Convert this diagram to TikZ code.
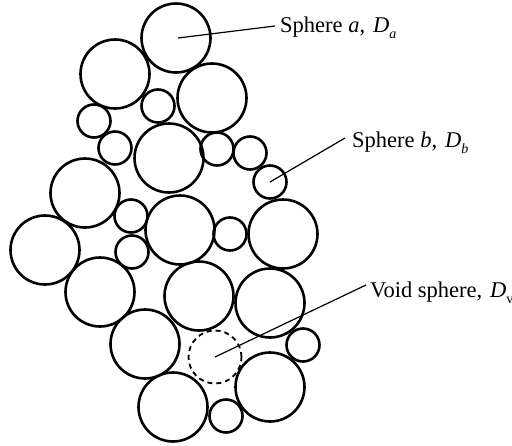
\documentclass[tikz,border=0pt]{standalone}
\usepackage{fontspec}
\setmainfont{Liberation Serif}
\begin{document}
\begin{tikzpicture}[x=1pt,y=-1pt,
  big/.style={circle,draw,line width=2.6pt,minimum size=69pt,inner sep=0pt},
  small/.style={circle,draw,line width=2.6pt,minimum size=33pt,inner sep=0pt},
  void/.style={circle,draw,line width=1.8pt,dash pattern=on 5pt off 4pt,minimum size=53pt,inner sep=0pt},
  leader/.style={line width=1.2pt},
  lbl/.style={anchor=base west,inner sep=0pt,font=\fontsize{22.5}{26}\selectfont}]
\useasboundingbox (0,0) rectangle (512,445);
% large spheres
\node[big] (a) at (176,38) {};
\node[big] (c1) at (115,74) {};
\node[big] (c2) at (212,98) {};
\node[big] (c3) at (169,158) {};
\node[big] (c4) at (85,193) {};
\node[big] (c5) at (180,230) {};
\node[big] (c6) at (283,234) {};
\node[big] (c7) at (45,250) {};
\node[big] (c8) at (100,292) {};
\node[big] (c9) at (199,296) {};
\node[big] (c10) at (270,303) {};
\node[big] (c11) at (145,344) {};
\node[big] (c12) at (270,387) {};
\node[big] (c13) at (173,407) {};
% small spheres
\node[small] (s1) at (158,106) {};
\node[small] (s2) at (94,121) {};
\node[small] (s3) at (115,148) {};
\node[small] (s4) at (217,149) {};
\node[small] (s5) at (250,153) {};
\node[small] (b) at (270,182) {};
\node[small] (s6) at (131,216) {};
\node[small] (s7) at (230,234) {};
\node[small] (s8) at (132,252) {};
\node[small] (s9) at (303,345) {};
\node[small] (s10) at (226,416) {};
% void sphere
\node[void] (v) at (215,357) {};
% labels
\node[lbl] (la) at (280,32) {Sphere \textit{a},\hspace{0.35em}\textit{D}\raisebox{-0.3em}{\fontsize{14}{16}\selectfont\textit{a}}};
\node[lbl] (lb) at (352,147) {Sphere \textit{b},\hspace{0.35em}\textit{D}\raisebox{-0.3em}{\fontsize{14}{16}\selectfont\textit{b}}};
\node[lbl] (lv) at (370,297) {Void sphere,\hspace{0.35em}\textit{D}\raisebox{-0.3em}{\fontsize{14}{16}\selectfont v}};
\coordinate (ea) at (275,26);
\coordinate (eb) at (345,138);
\coordinate (ev) at (366,285);
\draw[leader] (a.center) ++(2,0) -- (ea);
\draw[leader] (b.center) -- (eb);
\draw[leader] (v.center) -- (ev);
\end{tikzpicture}
\end{document}
